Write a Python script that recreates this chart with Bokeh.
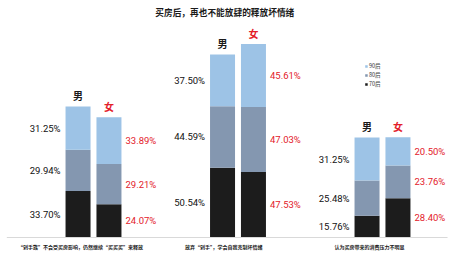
from bokeh.plotting import figure
from bokeh.models import ColumnDataSource, Range1d
from bokeh.core.properties import value
from bokeh.embed import file_html
from bokeh.resources import INLINE

title = "买房后，再也不能放肆的释放坏情绪"
categories = ["“剁手族”不会受买房影响，仍然继续“买买买”来释放",
              "放弃“剁手”，学会自我克制坏情绪",
              "认为买房带来的消费压力不明显"]
sexes = ["男", "女"]
series = ["70后", "80后", "90后"]
colors = ["#1c1c1c", "#8497b0", "#9dc3e6"]
# values per series: [g1男, g1女, g2男, g2女, g3男, g3女]
v70 = [33.70, 24.07, 50.54, 47.53, 15.76, 28.40]
v80 = [29.94, 29.21, 44.59, 47.03, 25.48, 23.76]
v90 = [31.25, 33.89, 37.50, 45.61, 31.25, 20.50]

W, H = 463, 255
p = figure(width=W, height=H, output_backend="svg", toolbar_location=None,
           min_border=0, x_range=Range1d(-0.6436, 2.5606), y_range=Range1d(-13.04, 171.7))
p.axis.visible = False
p.grid.visible = False
p.outline_line_color = None
p.background_fill_color = "white"
p.border_fill_color = "white"

off = 0.107
bw = 0.173
xs = []
for i in range(len(categories)):
    xs += [i - off, i + off]

vals = [v70, v80, v90]
bottom = [0.0] * 6
label_x, label_y, label_t, label_c, label_a, label_off = [], [], [], [], [], []
for s, (vv, c) in enumerate(zip(vals, colors)):
    top = [b + v for b, v in zip(bottom, vv)]
    p.vbar(x=xs, bottom=bottom, top=top, width=bw, fill_color=c, line_color=None)
    for k in range(6):
        label_x.append(xs[k] + (-bw / 2 if k % 2 == 0 else bw / 2))
        label_y.append((bottom[k] + top[k]) / 2)
        label_t.append(f"{vv[k]:.2f}%")
        label_c.append("#111111" if k % 2 == 0 else "#e3202a")
        label_a.append("right" if k % 2 == 0 else "left")
        label_off.append(-5 if k % 2 == 0 else 4)
    bottom = top

src = ColumnDataSource(dict(x=label_x, y=label_y, t=label_t, c=label_c, a=label_a, o=label_off))
p.text(x="x", y="y", text="t", text_color="c", text_align="a", x_offset="o",
       text_baseline="middle", text_font=value("Roboto"), text_font_size="9.5px", source=src)

# sex labels above bars
sx = ColumnDataSource(dict(x=xs, y=bottom, t=sexes * 3,
                           c=["#1a1a1a", "#e3202a"] * 3))
p.text(x="x", y="y", text="t", text_color="c", text_align="center", text_baseline="middle",
       y_offset=-11, text_font=value("Noto Sans CJK SC"), text_font_style="bold",
       text_font_size="10px", source=sx)

# baseline segments
for i in range(len(categories)):
    p.line([i - 0.6, i + 0.45], [0, 0], line_color="#d9d9d9", line_width=1)

# category labels
cx = ColumnDataSource(dict(x=[i - 0.09 for i in range(3)], y=[0] * 3, t=categories))
p.text(x="x", y="y", text="t", text_align="center", text_baseline="middle", y_offset=9,
       text_font=value("Noto Sans CJK SC"), text_font_style="bold", text_font_size="5px",
       text_color="#1a1a1a", source=cx)

# title
p.text(x=[(p.x_range.start + p.x_range.end) / 2 - 0.05], y=[p.y_range.end], text=[title],
       text_align="center", text_baseline="middle", y_offset=12,
       text_font=value("Noto Sans CJK SC"), text_font_style="bold", text_font_size="8.7px",
       text_color="#1a1a1a")

# legend
lx = 1.889
ly = [123.9, 117.4, 110.9]
leg_names = ["90后", "80后", "70后"]
leg_cols = ["#9dc3e6", "#8497b0", "#1c1c1c"]
p.scatter(x=[lx] * 3, y=ly, marker="square", size=2.5, fill_color=leg_cols, line_color=None)
p.text(x=[lx] * 3, y=ly, text=leg_names, x_offset=2.5, text_baseline="middle",
       text_font=value("Noto Sans CJK SC"), text_font_size="5.5px", text_color="#333333")

open("out.html", "w").write(file_html(p, INLINE))
